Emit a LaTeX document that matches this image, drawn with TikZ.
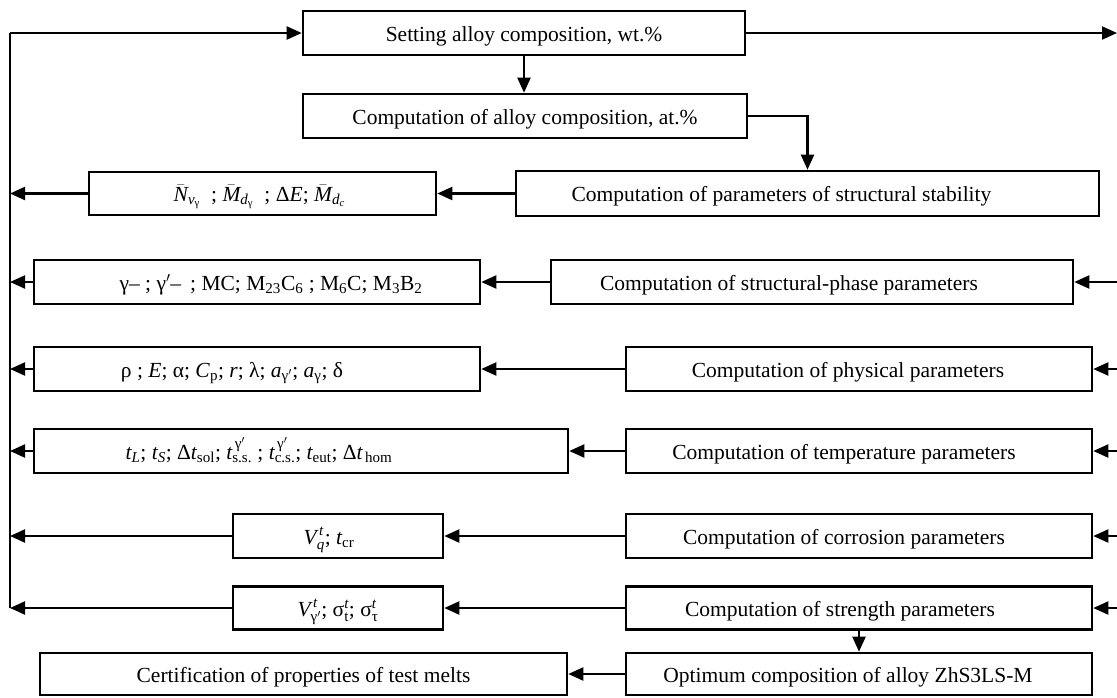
\documentclass[tikz,border=0pt]{standalone}
\usepackage{amsmath}
\usepackage{fontspec}
\setmainfont{Liberation Serif}
\usetikzlibrary{arrows.meta}
% box content of fixed width #1 with text shifted by #2
\newcommand{\bxt}[3]{\makebox[#1pt][c]{\hspace*{#2pt}\hspace*{#2pt}#3}}
\tikzset{
  blk/.style={draw=black, line width=2.6pt, rectangle, inner xsep=0pt, inner ysep=0pt,
              minimum height=44pt, text height=18pt, text depth=2pt,
              font=\fontsize{21.5}{24}\selectfont},
  ln/.style={draw=black, line width=2.1pt},
  arr/.style={ln, -{Triangle[length=15pt,width=13pt]}}
}
\begin{document}
\begin{tikzpicture}[x=1pt,y=-1pt]
\useasboundingbox (0,0) rectangle (1117,697);
% boxes
\node[blk] (top) at (524,33) {\bxt{442}{0}{Setting alloy composition, wt.\%}};
\node[blk] (comp) at (525,116) {\bxt{444}{0}{Computation of alloy composition, at.\%}};
\node[blk, minimum height=45pt] (stab) at (807.5,193.5) {\bxt{583}{-26}{Computation of parameters of structural stability}};
\node[blk, minimum height=43pt] (nbar) at (262.5,193.5) {\bxt{347}{-3}{$\bar{\textit{N}}_{\textit{v}_{\text{γ}}}$\ \ ; $\bar{\textit{M}}_{\textit{d}_{\text{γ}}}$\ \ ; Δ\textit{E}; $\bar{\textit{M}}_{\textit{d}_{\textit{c}}}$}};
\node[blk] (phase) at (812,282) {\bxt{522}{-23}{Computation of structural-phase parameters}};
\node[blk] (gam) at (257,282) {\bxt{446}{14}{γ– ; γ$'$– \,; MC; M\textsubscript{23}C\textsubscript{6} ; M\textsubscript{6}C; M\textsubscript{3}B\textsubscript{2}}};
\node[blk] (phys) at (859,369) {\bxt{466}{-11}{Computation of physical parameters}};
\node[blk] (physl) at (257,369) {\bxt{446}{-25}{ρ ; \textit{E}; α; \textit{C}\textsubscript{p}; \textit{r}; λ; $\textit{a}_{\text{γ}'}$; $\textit{a}_{\text{γ}}$; δ}};
\node[blk] (temp) at (859,451) {\bxt{466}{-15}{Computation of temperature parameters}};
\node[blk] (templ) at (301,451) {\bxt{534}{-42}{$\textit{t}_{\textit{L}}$; $\textit{t}_{\textit{S}}$; Δ$\textit{t}_{\text{sol}}$; $\textit{t}^{\,\text{γ}'}_{\text{s.s.}}$\ ; $\textit{t}^{\,\text{γ}'}_{\text{c.s.}}$; $\textit{t}_{\text{eut}}$; Δ$\textit{t}_{\,\text{hom}}$}};
\node[blk] (corr) at (859,536) {\bxt{466}{-15}{Computation of corrosion parameters}};
\node[blk] (corrl) at (338,536) {\bxt{210}{-9}{$\textit{V}_{\textit{q}}^{\,\textit{t}}$; $\textit{t}_{\text{cr}}$}};
\node[blk, minimum height=43pt] (str) at (859,608) {\bxt{466}{-19}{Computation of strength parameters}};
\node[blk, minimum height=43pt] (strl) at (338,608) {\bxt{210}{0}{$\textit{V}^{\,\textit{t}}_{\text{γ}'}$; σ$^{\textit{t}}_{\text{t}}$; σ$^{\textit{t}}_{\text{τ}}$}};
\node[blk, minimum height=42pt] (opt) at (859,674) {\bxt{466}{-11}{Optimum composition of alloy ZhS3LS-M}};
\node[blk, minimum height=42pt] (cert) at (303.5,674) {\bxt{527}{0}{Certification of properties of test melts}};
% helper coordinates
\coordinate (Ltop) at (10,33);
\coordinate (Lbot) at (10,608);
\coordinate (Rtop) at (1117,33);
\coordinate (R) at (1117,0);
% connectors
\draw[ln] (Lbot) -- (Ltop);
\draw[arr] (Ltop) -- (top.west);
\draw[arr] (top.east) -- (Rtop);
\draw[arr] (top.south) -- (top.south |- comp.north);
\draw[arr] (comp.east) -| (stab.north);
\draw[arr] (stab.west) -- (stab.west -| nbar.east);
\draw[arr] (phase.west) -- (gam.east);
\draw[arr] (phys.west) -- (physl.east);
\draw[arr] (temp.west) -- (templ.east);
\draw[arr] (corr.west) -- (corrl.east);
\draw[arr] (str.west) -- (strl.east);
\draw[arr] (str.south) -- (str.south |- opt.north);
\draw[arr] (opt.west) -- (cert.east);
\foreach \n in {nbar,gam,physl,templ,corrl,strl}
  \draw[arr] (\n.west) -- (\n.west -| Ltop);
\foreach \n in {phase,phys,temp,corr,str}
  \draw[arr] (\n.east -| R) -- (\n.east);
\end{tikzpicture}
\end{document}
